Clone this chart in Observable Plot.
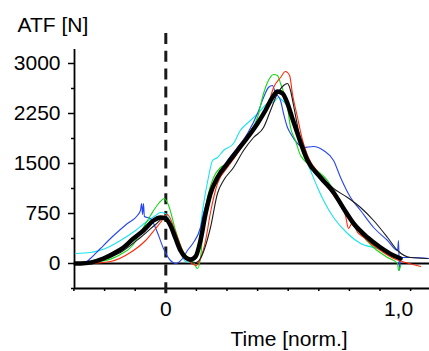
<!DOCTYPE html>
<html>
<head>
<meta charset="utf-8">
<script src="https://cdn.jsdelivr.net/npm/d3@7"></script>
<script src="https://cdn.jsdelivr.net/npm/@observablehq/plot@0.6"></script>
<style>
  html, body { margin: 0; padding: 0; background: #fff; }
</style>
</head>
<body>
<div id="chart"></div>
<script>
// ---- Data ----
const yTicks = [0, 750, 1500, 2250, 3000];
const yMinorTicks = [-375, 375, 1125, 1875, 2625];
const xTickPositions = [-0.395, -0.263, -0.1315, 0, 0.1315, 0.263, 0.3945, 0.526, 0.6575, 0.789, 0.9205, 1.052];
const xLabelValues = [0, 1];
const xLabelTexts = ["0", "1,0"];
const eventX = [0];

const meanX = [-0.388,-0.367,-0.268,-0.224,-0.182,-0.139,-0.096,-0.053,-0.023,-0.001,0.020,0.042,0.063,0.085,0.106,0.128,0.149,0.171,0.192,0.222,0.265,0.308,0.351,0.394,0.428,0.458,0.480,0.502,0.523,0.544,0.566,0.609,0.665,0.721,0.764,0.807,0.867,0.923,0.979,1.009];
const meanY = [0,0,75,150,240,375,495,645,690,675,570,375,195,90,60,105,345,750,1050,1290,1500,1695,1890,2100,2295,2490,2580,2550,2400,2175,1950,1545,1290,1065,825,600,390,240,120,75];

const blackX = [-0.388,-0.281,-0.195,-0.109,-0.044,-0.010,0.012,0.042,0.072,0.098,0.128,0.149,0.171,0.192,0.222,0.248,0.291,0.334,0.377,0.420,0.450,0.480,0.506,0.523,0.536,0.549,0.570,0.592,0.622,0.665,0.721,0.781,0.837,0.893,0.953,0.996,1.052,1.125];
const blackY = [0,45,165,390,585,675,645,420,165,45,15,75,270,540,1050,1245,1440,1695,1890,2040,2295,2550,2670,2700,2595,2370,1995,1695,1470,1320,1125,990,840,645,390,195,90,75];

const redX = [-0.388,-0.238,-0.152,-0.087,-0.044,-0.023,0.007,0.042,0.076,0.106,0.132,0.149,0.171,0.192,0.222,0.265,0.308,0.351,0.394,0.437,0.463,0.493,0.514,0.532,0.544,0.566,0.588,0.609,0.665,0.721,0.772,0.785,0.802,0.824,0.846,0.880,0.923,0.979,1.030,1.095];
const redY = [-15,30,165,345,525,615,735,465,165,15,-30,75,345,765,1200,1440,1650,1890,2100,2340,2640,2790,2880,2820,2550,2190,1845,1620,1320,1020,720,525,615,465,405,300,195,75,15,-45];

const greenX = [-0.388,-0.281,-0.195,-0.143,-0.109,-0.066,-0.031,-0.006,0.012,0.042,0.072,0.098,0.119,0.136,0.149,0.162,0.183,0.205,0.235,0.265,0.308,0.351,0.394,0.420,0.441,0.463,0.480,0.493,0.523,0.536,0.557,0.579,0.635,0.695,0.738,0.781,0.837,0.893,0.953,0.996,1.000,1.009];
const greenY = [0,30,135,270,465,720,900,975,870,495,195,75,15,-75,75,615,1050,1290,1440,1500,1695,1920,2190,2550,2745,2835,2820,2700,2340,2040,1845,1620,1440,1245,990,750,450,240,90,0,-105,-30];

const blueX = [-0.388,-0.345,-0.324,-0.281,-0.224,-0.165,-0.122,-0.109,-0.104,-0.100,-0.096,-0.092,-0.066,-0.036,-0.010,0.020,0.042,0.072,0.093,0.119,0.149,0.162,0.192,0.222,0.265,0.308,0.351,0.394,0.420,0.441,0.458,0.471,0.493,0.506,0.523,0.536,0.566,0.592,0.635,0.678,0.721,0.751,0.794,0.837,0.893,0.953,0.996,1.000,1.004,1.009,1.052,1.130];
const blueY = [-15,15,75,225,420,600,720,795,900,735,900,705,675,465,225,45,0,75,195,315,540,750,1050,1290,1545,1740,1950,2250,2490,2640,2670,2565,2445,2250,2040,1950,1800,1740,1755,1695,1545,1290,990,795,540,345,195,345,-105,90,90,75];

const cyanX = [-0.388,-0.324,-0.259,-0.195,-0.130,-0.087,-0.044,-0.023,-0.001,0.020,0.042,0.063,0.085,0.106,0.136,0.158,0.183,0.201,0.222,0.248,0.291,0.320,0.364,0.407,0.437,0.463,0.484,0.502,0.523,0.544,0.579,0.622,0.652,0.678,0.721,0.781,0.837,0.910,0.966,1.009];
const cyanY = [150,165,225,345,495,615,720,765,750,615,375,165,30,15,195,795,1290,1545,1590,1695,1800,1995,2145,2295,2400,2415,2490,2445,2355,2190,1770,1395,1140,945,690,450,300,225,150,75];

// ---- Build tables ----
const toRows = (xs, ys) => xs.map((x, i) => ({x, y: ys[i]}));
const xDomain = [-0.3924, 1.1332];
const yDomain = [-375, 3210];

const thin = [
  {rows: toRows(cyanX, cyanY), color: "#19e3ef"},
  {rows: toRows(blueX, blueY), color: "#2546ee"},
  {rows: toRows(greenX, greenY), color: "#14d814"},
  {rows: toRows(redX, redY), color: "#ff2a0a"},
  {rows: toRows(blackX, blackY), color: "#1a1a1a"}
];

const chart = Plot.plot({
  width: 429,
  height: 351,
  marginLeft: 74,
  marginRight: 0,
  marginTop: 49,
  marginBottom: 63,
  x: {domain: xDomain},
  y: {domain: yDomain},
  style: {fontFamily: "'Liberation Sans', Arial, sans-serif", fontSize: "21px", color: "#000", background: "#fff"},
  marks: [
    Plot.axisY({ticks: yTicks, tickSize: 6, tickPadding: 8, strokeWidth: 1.5, label: null, tickFormat: d => String(d)}),
    Plot.axisY({ticks: yMinorTicks, tickSize: 3, strokeWidth: 1.5, label: null, tickFormat: () => ""}),
    Plot.axisX({ticks: xTickPositions, tickSize: 3, strokeWidth: 1.5, label: null, tickFormat: () => ""}),
    Plot.axisX({ticks: xLabelValues, tickSize: 0, tickPadding: 13, label: null, tickFormat: (d, i) => xLabelTexts[i]}),
    Plot.ruleX([xDomain[0]], {stroke: "#000", strokeWidth: 1.8}),
    Plot.ruleY([yDomain[0]], {stroke: "#000", strokeWidth: 1.8}),
    Plot.ruleY([0], {stroke: "#000", strokeWidth: 2}),
    Plot.ruleX(eventX, {y1: 3450, y2: -480, stroke: "#1a1a1a", strokeWidth: 3, strokeDasharray: "11,6.8"}),
    ...thin.map(s => Plot.line(s.rows, {x: "x", y: "y", stroke: s.color, strokeWidth: 1.1, curve: "monotone-x"})),
    Plot.line(toRows(meanX, meanY), {x: "x", y: "y", stroke: "#000", strokeWidth: 4.5, curve: "monotone-x"}),
    Plot.text(["ATF [N]"], {frameAnchor: "top-left", text: d => d, textAnchor: "start", lineAnchor: "bottom", dx: -57, dy: -18, fontSize: 21}),
    Plot.text(["Time [norm.]"], {frameAnchor: "bottom-left", text: d => d, textAnchor: "start", lineAnchor: "bottom", dx: 156, dy: 57, fontSize: 21})
  ]
});
document.getElementById("chart").appendChild(chart);
</script>
</body>
</html>
